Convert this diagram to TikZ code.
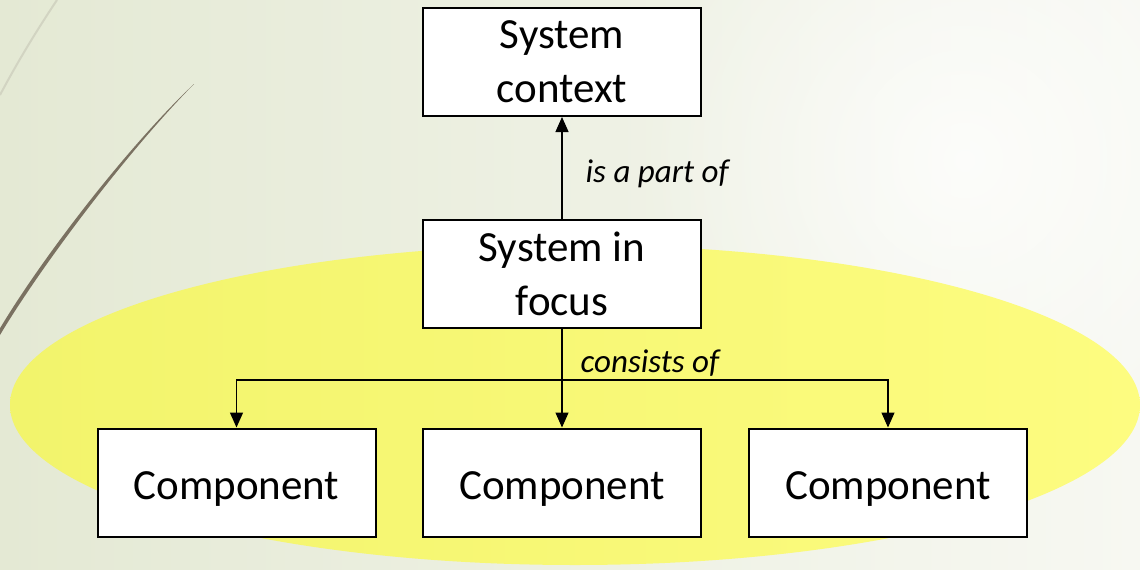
\documentclass[tikz,border=0pt]{standalone}
\usepackage{fontspec}
\setmainfont{Carlito}
\usetikzlibrary{arrows.meta,fadings}
\definecolor{bgleft}{RGB}{228,233,212}
\definecolor{bgright}{RGB}{247,248,242}
\definecolor{yelleft}{RGB}{242,244,108}
\definecolor{yelright}{RGB}{253,252,128}
\definecolor{strokedark}{RGB}{122,113,97}
\definecolor{strokelight}{RGB}{210,212,194}
\tikzfading[name=glowfade, inner color=transparent!25, outer color=transparent!100]
\tikzset{
  box/.style={draw=black, line width=2pt, fill=white, minimum width=278pt,
    minimum height=108pt, inner sep=0pt, align=center,
    font=\fontsize{43}{54}\selectfont},
  part/.style={box, text height=33pt, text depth=0pt},
  link/.style={draw=black, line width=1.3pt},
  arr/.style={link, -{Triangle[width=13pt,length=15pt]}},
  rel/.style={font=\fontsize{33}{40}\selectfont\itshape, inner sep=0pt, anchor=west}
}
\begin{document}
\begin{tikzpicture}[x=1pt,y=-1pt]
\useasboundingbox (0,0) rectangle (1140,570);
\begin{scope}
  \clip (0,0) rectangle (1140,570);
  % backdrop
  \shade[left color=bgleft, right color=bgright] (0,0) rectangle (1140,570);
  \fill[white, path fading=glowfade] (965,160) circle[radius=330];
  % decorative strokes
  \draw[strokelight, line width=2pt] (57,0) .. controls (35,33) and (17,63) .. (0,95);
  \fill[strokedark] (0,335) .. controls (40,268) and (126,153) .. (194,84)
                    .. controls (124,150) and (38,264) .. (-1,330) -- cycle;
  % highlighted area
  \shade[left color=yelleft, right color=yelright] (575,405) ellipse[x radius=565, y radius=160];
\end{scope}

\node[box] (ctx)   at (562,62)  {System\\context};
\node[box] (focus) at (562,274) {System in\\focus};
\node[part] (c1) at (236.5,482.5) {Component};
\node[part] (c2) at (562,482.5)   {Component};
\node[part] (c3) at (888,482.5)   {Component};

\draw[arr] (focus.north) -- node[rel, xshift=23pt, yshift=-6pt] {is a part of} (ctx.south);

\coordinate (split) at (562,380);
\draw[link] (focus.south) -- node[rel, xshift=18pt, yshift=-9pt] {consists of} (split);
\draw[arr] (split) -- (c2.north);
\draw[arr] (split) -| (c1.north);
\draw[arr] (split) -| (c3.north);
\end{tikzpicture}
\end{document}
